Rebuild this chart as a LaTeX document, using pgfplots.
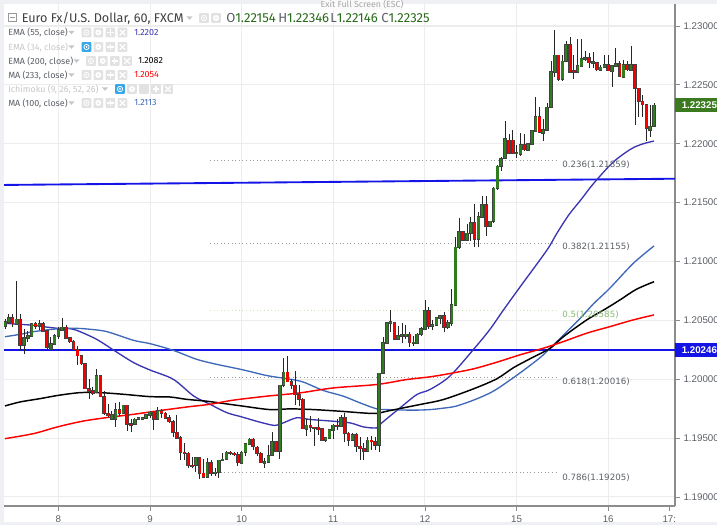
\documentclass[border=0pt]{standalone}
\usepackage{pgfplots}
\usepackage{pgfplotstable}
\usepackage{fontspec}
\pgfplotsset{compat=1.18}
\setmainfont{Liberation Sans}
\newfontfamily\tv{Fira Sans}
\newfontfamily\fib{DejaVu Sans}

\definecolor{gridc}{HTML}{ECECEC}
\definecolor{axisc}{HTML}{8C8C8C}
\definecolor{txtc}{HTML}{5A5F66}
\definecolor{stripc}{HTML}{EFF0F3}
\definecolor{upc}{HTML}{2F7D1E}
\definecolor{downc}{HTML}{F50000}
\definecolor{wick}{HTML}{262626}
\definecolor{ema}{HTML}{3A35B0}
\definecolor{maline}{HTML}{3E68B8}
\definecolor{hline}{HTML}{1414E6}
\definecolor{tagup}{HTML}{3B7A1E}
\definecolor{fibg}{HTML}{9A9A9A}
\definecolor{fibgreen}{HTML}{CBE3BD}
\definecolor{fibtxt}{HTML}{85BB70}
\definecolor{icong}{HTML}{E2E2E2}
\definecolor{iconb}{HTML}{3AA8E8}

% hours from the 8th 00:00, open high low close
\pgfplotstableread{
h o hi lo c
-14 1.2045 1.2051 1.2043 1.2049
-13 1.2049 1.2055 1.2047 1.2052
-12 1.2052 1.2055 1.2044 1.2047
-11 1.2047 1.2083 1.2047 1.2051
-10 1.2051 1.2055 1.2025 1.2029
-9 1.2029 1.2043 1.2021 1.2035
-8 1.2035 1.2041 1.2032 1.2037
-7 1.2037 1.2048 1.2037 1.2047
-6 1.2047 1.2049 1.2043 1.2045
-5 1.2045 1.2050 1.2042 1.2047
-4 1.2047 1.2049 1.2040 1.2041
-3 1.2041 1.2041 1.2026 1.2027
-2 1.2026 1.2036 1.2026 1.2030
-1 1.2030 1.2038 1.2030 1.2037
0 1.2037 1.2044 1.2034 1.2042
1 1.2042 1.2052 1.2042 1.2044
2 1.2044 1.2046 1.2035 1.2035
3 1.2035 1.2036 1.2031 1.2032
4 1.2032 1.2033 1.2024 1.2025
5 1.2025 1.2028 1.2012 1.2020
6 1.2020 1.2020 1.2012 1.2013
7 1.2013 1.2013 1.1992 1.1992
8 1.1992 1.2000 1.1983 1.1990
9 1.1990 1.1993 1.1987 1.1988
10 1.1989 1.2009 1.1988 1.2003
11 1.2003 1.2003 1.1985 1.1985
12 1.1985 1.1990 1.1970 1.1971
13 1.1971 1.1979 1.1968 1.1969
14 1.1966 1.1973 1.1966 1.1970
15 1.1966 1.1980 1.1959 1.1974
16 1.1974 1.1981 1.1969 1.1971
17 1.1971 1.1978 1.1971 1.1978
18 1.1978 1.1978 1.1956 1.1962
19 1.1962 1.1966 1.1955 1.1961
20 1.1962 1.1967 1.1961 1.1966
21 1.1966 1.1968 1.1965 1.1967
22 1.1966 1.1968 1.1965 1.1967
23 1.1967 1.1970 1.1967 1.1970
24 1.1970 1.1973 1.1967 1.1972
25 1.1972 1.1973 1.1957 1.1966
26 1.1966 1.1976 1.1965 1.1973
27 1.1973 1.1975 1.1967 1.1971
28 1.1971 1.1972 1.1966 1.1967
29 1.1967 1.1970 1.1963 1.1964
30 1.1964 1.1965 1.1951 1.1955
31 1.1955 1.1970 1.1950 1.1950
32 1.1950 1.1952 1.1931 1.1938
33 1.1938 1.1946 1.1931 1.1937
34 1.1937 1.1938 1.1925 1.1927
35 1.1927 1.1934 1.1925 1.1926
36 1.1927 1.1934 1.1921 1.1933
37 1.1933 1.1933 1.1915 1.1920
38 1.1920 1.1932 1.1917 1.1917
39 1.1917 1.1933 1.1917 1.1929
40 1.1929 1.1931 1.1918 1.1920
41 1.1920 1.1925 1.1918 1.1921
42 1.1921 1.1931 1.1916 1.1931
43 1.1931 1.1937 1.1931 1.1932
44 1.1932 1.1939 1.1931 1.1938
45 1.1938 1.1939 1.1936 1.1937
46 1.1937 1.1938 1.1935 1.1936
47 1.1936 1.1938 1.1926 1.1929
48 1.1929 1.1939 1.1929 1.1938
49 1.1938 1.1946 1.1935 1.1945
50 1.1945 1.1950 1.1944 1.1949
51 1.1949 1.1950 1.1940 1.1943
52 1.1942 1.1943 1.1935 1.1937
53 1.1937 1.1938 1.1929 1.1929
54 1.1929 1.1933 1.1925 1.1930
55 1.1930 1.1944 1.1929 1.1935
56 1.1936 1.1955 1.1935 1.1947
57 1.1947 1.1947 1.1939 1.1939
58 1.1939 1.1995 1.1932 1.1995
59 1.1995 1.2018 1.1993 1.2006
60 1.2006 1.2020 1.1998 1.1998
61 1.1998 1.2000 1.1992 1.1995
62 1.1995 1.2007 1.1978 1.1987
63 1.1987 1.1995 1.1977 1.1983
64 1.1983 1.1984 1.1958 1.1958
65 1.1958 1.1966 1.1952 1.1961
66 1.1961 1.1969 1.1955 1.1959
67 1.1959 1.1959 1.1943 1.19585
68 1.1959 1.1967 1.1953 1.1957
69 1.1958 1.1958 1.1948 1.1948
70 1.1948 1.1951 1.1947 1.1950
71 1.1950 1.1958 1.1949 1.1957
72 1.1957 1.1962 1.1949 1.1961
73 1.1961 1.1966 1.1957 1.1960
74 1.1960 1.1970 1.1959 1.1967
75 1.1967 1.1971 1.1947 1.1954
76 1.1954 1.1955 1.1943 1.1948
77 1.1948 1.1954 1.1948 1.1953
78 1.1953 1.1954 1.1938 1.1943
79 1.1943 1.1951 1.1931 1.1941
80 1.1941 1.1946 1.1931 1.1939
81 1.1939 1.1951 1.1939 1.1948
82 1.1948 1.1952 1.1940 1.1947
83 1.1947 1.1951 1.1940 1.1944
84 1.1944 1.2005 1.1938 1.2005
85 1.2005 1.2036 1.2004 1.2031
86 1.2031 1.2049 1.2031 1.2048
87 1.2048 1.2059 1.2040 1.2049
88 1.2048 1.2049 1.2033 1.2034
89 1.2034 1.2045 1.2033 1.2037
90 1.2037 1.2048 1.2031 1.20375
91 1.2037 1.2046 1.2034 1.2038
92 1.2038 1.2040 1.2027 1.2031
93 1.2031 1.2037 1.2028 1.20315
94 1.2031 1.2039 1.2031 1.2038
95 1.2038 1.2044 1.2037 1.2043
96 1.2043 1.2067 1.2042 1.2058
97 1.2058 1.2061 1.2043 1.2045
98 1.2045 1.2050 1.2042 1.2046
99 1.2046 1.2053 1.2045 1.2052
100 1.2052 1.2054 1.2047 1.2054
101 1.2054 1.2057 1.2040 1.2044
102 1.2044 1.2050 1.2043 1.2048
103 1.2048 1.2077 1.2045 1.2063
104 1.2063 1.2121 1.2063 1.2112
105 1.2112 1.2137 1.2111 1.2125
106 1.2125 1.2125 1.2117 1.2118
107 1.2118 1.2132 1.2118 1.2124
108 1.2124 1.2138 1.2117 1.2133
109 1.2133 1.2149 1.2112 1.2119
110 1.2119 1.2142 1.2112 1.2138
111 1.2138 1.2156 1.2137 1.2148
112 1.2148 1.2156 1.2122 1.2130
113 1.2130 1.2134 1.2129 1.2134
114 1.2134 1.2163 1.2133 1.2162
115 1.2162 1.2182 1.2161 1.2181
116 1.2181 1.2189 1.2177 1.2187
117 1.2188 1.2219 1.2188 1.2204
118 1.2203 1.2208 1.2191 1.2192
119 1.2203 1.2212 1.2191 1.2192
120 1.2192 1.2199 1.2188 1.21925
121 1.2191 1.2209 1.2190 1.2199
122 1.2199 1.2208 1.2194 1.2195
123 1.2195 1.2201 1.2194 1.2200
124 1.2200 1.2211 1.2200 1.2211
125 1.2211 1.2240 1.2210 1.2223
126 1.2223 1.2231 1.2209 1.2210
127 1.2209 1.2221 1.2202 1.2212
128 1.2212 1.2235 1.2211 1.2231
129 1.2231 1.2270 1.2230 1.2261
130 1.2261 1.2297 1.2257 1.2275
131 1.2275 1.2275 1.2253 1.2255
132 1.2255 1.2275 1.2253 1.2270
133 1.2270 1.2287 1.2270 1.2284
134 1.2284 1.2291 1.2260 1.2261
135 1.2262 1.2275 1.2255 1.2261
136 1.2261 1.2289 1.2261 1.2266
137 1.2266 1.2289 1.2265 1.2272
138 1.2272 1.2279 1.2270 1.2273
139 1.2273 1.2277 1.2264 1.2269
140 1.2269 1.2278 1.2264 1.22695
141 1.2269 1.2269 1.2262 1.2263
142 1.2263 1.2267 1.2262 1.2265
143 1.2265 1.2275 1.2264 1.2267
144 1.2267 1.2275 1.2262 1.2262
145 1.2262 1.2266 1.2248 1.2266
146 1.2266 1.2281 1.2265 1.2268
147 1.2268 1.2270 1.2257 1.2257
148 1.2257 1.2271 1.2257 1.2267
149 1.2267 1.2270 1.2262 1.2263
150 1.2263 1.2283 1.2262 1.2267
151 1.2267 1.2268 1.2216 1.2247
152 1.2247 1.2247 1.2223 1.2236
153 1.2236 1.2241 1.2223 1.2233
154 1.2233 1.2234 1.2202 1.2213
155 1.2212 1.2233 1.2206 1.2215
156 1.2215 1.2235 1.2215 1.22325
}\candles

\pgfplotstableread{
h p
-14 1.20475
-6.5 1.20458
-3.9 1.20446
0 1.20432
2.2 1.20432
4.8 1.20415
10 1.20339
14.8 1.2024
19.7 1.20141
24 1.20078
30.1 1.19999
35.4 1.19858
39.7 1.19787
44.1 1.19716
48 1.1968
52.8 1.19635
56.7 1.19607
58.9 1.19629
62.4 1.19672
65.9 1.19658
72 1.19643
76.4 1.19629
79.9 1.19595
83.4 1.19587
84.7 1.19629
89.5 1.19757
93.9 1.1987
97.3 1.19912
102.5 1.20025
108.7 1.20252
113 1.20422
116.5 1.20585
120.9 1.20783
127.9 1.21094
130.5 1.21236
133.6 1.21392
137 1.2153
140.1 1.2166
145.3 1.21844
150.1 1.21958
153.2 1.22
156 1.22023
}\emaA

\pgfplotstableread{
h p
-14 1.20361
-10 1.20381
-6.5 1.20404
0 1.20429
4.8 1.20432
8.3 1.20424
12.7 1.20404
19.7 1.2033
24 1.20302
30.1 1.20245
36.2 1.20169
41.5 1.20126
48 1.20082
54.6 1.20031
60.7 1.2
64.2 1.19975
69.4 1.19904
74.6 1.19856
79 1.19799
83.4 1.19748
86 1.19742
93 1.19737
97.4 1.19742
100 1.19751
104 1.1977
109.1 1.19827
113.9 1.19898
119.1 1.20011
123.5 1.20116
127 1.20207
132.3 1.20376
136.7 1.20518
140.1 1.20639
144.4 1.20772
150.6 1.20985
156 1.21132
}\maHundred

\pgfplotstableread{
h p
-14 1.19773
-10 1.19807
-4.8 1.19835
0 1.19863
5.7 1.19886
10.9 1.19886
17 1.19872
24 1.19852
29.2 1.19849
33.6 1.19829
38.9 1.19813
44.1 1.1979
48.4 1.19771
55.4 1.19742
60.7 1.19748
66.8 1.19742
73.8 1.19728
82.5 1.19709
86 1.19728
89.5 1.19751
94.7 1.19785
100.8 1.19827
108.7 1.19918
114.8 1.20003
119.1 1.20096
123.5 1.20173
128.8 1.20263
132.3 1.20362
138.4 1.20504
143.6 1.20603
147.1 1.20674
151.4 1.20764
156 1.20828
}\emaB

\pgfplotstableread{
h p
-14 1.19495
-6.5 1.19538
0 1.19597
6.6 1.19645
12.7 1.19674
19.7 1.19702
25.8 1.1973
33.6 1.19764
39.7 1.19787
45.8 1.19822
54.6 1.19856
63.3 1.19884
72 1.19926
83.4 1.19955
91.2 1.19997
97.3 1.2002
102.5 1.20048
108.7 1.20088
114.8 1.20144
120.9 1.20207
127 1.20263
132.3 1.2032
138.4 1.20391
144.5 1.20447
150.6 1.20504
156 1.20546
}\maTwo

\newcommand\icbox[3]{\fill[#3,rounded corners=0.5pt] ({#1-4.8},{#2-4.8}) rectangle ({#1+4.8},{#2+4.8});}
\newcommand\iceye[3]{\icbox{#1}{#2}{#3}\draw[white,line width=0.6pt] (#1,#2) circle[radius=2.6]; \fill[white] (#1,#2) circle[radius=1];}
\newcommand\icgear[2]{\icbox{#1}{#2}{icong}\fill[white] (#1,#2) circle[radius=3]; \fill[icong] (#1,#2) circle[radius=1];}
\newcommand\icplus[2]{\icbox{#1}{#2}{icong}\draw[white,line width=0.9pt] ({#1-3.2},#2) -- ({#1+3.2},#2) (#1,{#2-3.2}) -- (#1,{#2+3.2});}
\newcommand\ictimes[2]{\icbox{#1}{#2}{icong}\draw[white,line width=0.9pt] ({#1-2.8},{#2-2.8}) -- ({#1+2.8},{#2+2.8}) ({#1-2.8},{#2+2.8}) -- ({#1+2.8},{#2-2.8});}
% one legend row of four buttons
\newcommand\icrow[3]{\iceye{#1}{#2}{#3}\icgear{#1+11.8}{#2}\icplus{#1+23.8}{#2}\ictimes{#1+36}{#2}}
\newcommand\arrowdn[2]{\fill[gray!45] ({#1-3},{#2-1.5}) -- ({#1+3},{#2-1.5}) -- (#1,{#2+1.8}) -- cycle;}
\newcommand\legrow[3]{\node[anchor=west,inner sep=0pt,text=#3] at (8,#1) {\tv\fontsize{6.7}{8}\selectfont #2};}
\newcommand\legval[4]{\node[anchor=west,inner sep=0pt,text=#3] at (#1,#2) {\tv\fontsize{6.7}{8}\selectfont #4};}

\begin{document}
\begin{tikzpicture}
\path[use as bounding box] (0,0) rectangle (537.75pt,393.75pt);
\begin{axis}[
  at={(3pt,14.25pt)}, anchor=south west,
  scale only axis,
  width=503.25pt, height=376.5pt,
  xmin=-14.25, xmax=161.5,
  ymin=1.18923, ymax=1.23187,
  axis x line=bottom, axis y line=right,
  axis line style={-,color=axisc,line width=0.8pt},
  tick align=outside,
  major tick length=3.5pt,
  tick style={color=axisc,line width=0.6pt},
  xtick={0,24,48,72,96,120,144},
  xticklabels={8,9,10,11,12,15,16},
  extra x ticks={160},
  extra x tick labels={17:},
  extra x tick style={grid=none},
  ytick={1.19,1.195,1.2,1.205,1.21,1.215,1.22,1.225,1.23},
  scaled y ticks=false,
  yticklabel style={xshift=-0.6pt,/pgf/number format/.cd,fixed,fixed zerofill,precision=5,assume math mode=true},
  tick label style={font=\fontsize{7.3}{9}\selectfont,text=txtc},
  xtick pos=bottom,
  ytick pos=right,
  xmajorgrids, ymajorgrids,
  grid style={color=gridc,line width=0.8pt},
  clip=true,
]
\addplot[color=fibg,dotted,line width=0.7pt] coordinates {(39.7,1.21859) (130.8,1.21859)};
\addplot[color=fibg,dotted,line width=0.7pt] coordinates {(39.7,1.21155) (130.8,1.21155)};
\addplot[color=fibgreen,dotted,line width=0.7pt] coordinates {(39.7,1.20585) (130.8,1.20585)};
\addplot[color=fibg,dotted,line width=0.7pt] coordinates {(39.7,1.20016) (130.8,1.20016)};
\addplot[color=fibg,dotted,line width=0.7pt] coordinates {(39.7,1.19205) (130.8,1.19205)};
\addplot[color=hline,line width=1.5pt] coordinates {(-14.25,1.20246) (161.5,1.20246)};
\addplot[color=hline,line width=1.4pt] coordinates {(-14.25,1.2165) (161.5,1.21703)};
\addplot[color=ema,line width=1pt,smooth] table[x=h,y=p] {\emaA};
\addplot[color=maline,line width=1pt,smooth] table[x=h,y=p] {\maHundred};
\addplot[color=black,line width=1.1pt,smooth] table[x=h,y=p] {\emaB};
\addplot[color=red,line width=1.1pt,smooth] table[x=h,y=p] {\maTwo};
% wicks
\addplot[only marks,mark size=0pt,mark options={draw=none,fill=none},error bars/.cd,y dir=both,y explicit,error mark=none,
  error bar style={color=wick,line width=0.6pt}]
  table[x=h,y=o,y error plus expr=\thisrow{hi}-\thisrow{o},y error minus expr=\thisrow{o}-\thisrow{lo}] {\candles};
% body outlines
\addplot[only marks,mark size=0pt,mark options={draw=none,fill=none},error bars/.cd,y dir=both,y explicit,error mark=none,
  error bar style={color=wick!70!gray,line width=2.7pt}]
  table[x=h,y=o,y error plus expr={max(\thisrow{c}-\thisrow{o},0)+0.00005},y error minus expr={max(\thisrow{o}-\thisrow{c},0)+0.00005}] {\candles};
% up bodies
\addplot[only marks,mark size=0pt,mark options={draw=none,fill=none},x filter/.expression={\thisrow{c}>=\thisrow{o} ? x : nan},
  error bars/.cd,y dir=plus,y explicit,error mark=none,
  error bar style={color=upc,line width=1.7pt}]
  table[x=h,y=o,y error plus expr=\thisrow{c}-\thisrow{o}] {\candles};
% down bodies
\addplot[only marks,mark size=0pt,mark options={draw=none,fill=none},x filter/.expression={\thisrow{c}<\thisrow{o} ? x : nan},
  error bars/.cd,y dir=minus,y explicit,error mark=none,
  error bar style={color=downc,line width=1.7pt}]
  table[x=h,y=o,y error minus expr=\thisrow{o}-\thisrow{c}] {\candles};
\end{axis}

\begin{scope}[x=0.75pt,y=-0.75pt,yshift=393.75pt]
% chrome
\fill[stripc] (0,0) rectangle (717,4);
\fill[stripc] (0,0) rectangle (4,525);
\fill[stripc] (0,521.5) rectangle (717,525);
\fill[white!96!gray] (322,0) rectangle (402,10.5);
\node[inner sep=0pt,text=gray!70] at (362,4.6) {\tv\fontsize{6.6}{8}\selectfont Exit Full Screen (ESC)};

% price tags
\fill[tagup] (675,98) rectangle (717,112);
\node[anchor=west,inner sep=0pt,text=white] at (681.5,105) {\fontsize{7.3}{9}\selectfont\bfseries 1.22325};
\fill[hline] (675,343.5) rectangle (717,357.5);
\node[anchor=west,inner sep=0pt,text=white] at (681.5,350.5) {\fontsize{7.3}{9}\selectfont\bfseries 1.20246};

% fib labels
\node[anchor=west,inner sep=0pt,text=txtc] at (562,165) {\fib\fontsize{6.5}{8}\selectfont 0.236(1.21859)};
\node[anchor=west,inner sep=0pt,text=txtc] at (562,247) {\fib\fontsize{6.5}{8}\selectfont 0.382(1.21155)};
\node[anchor=west,inner sep=0pt,text=fibtxt] at (562,315) {\fib\fontsize{6.5}{8}\selectfont 0.5(1.20585)};
\node[anchor=west,inner sep=0pt,text=txtc] at (562,382) {\fib\fontsize{6.5}{8}\selectfont 0.618(1.20016)};
\node[anchor=west,inner sep=0pt,text=txtc] at (562,477.5) {\fib\fontsize{6.5}{8}\selectfont 0.786(1.19205)};

% title row
\draw[gray!80,line width=0.6pt] (8.5,13.5) rectangle (16.5,21.5);
\draw[gray!80,line width=0.6pt] (10.3,17.5) -- (14.7,17.5);
\node[anchor=west,inner sep=0pt,text=black!75] at (21.5,18) {\tv\fontsize{9.5}{12}\selectfont Euro Fx/U.S. Dollar, 60, FXCM};
\arrowdn{189.5}{18}
\iceye{204}{18}{icong}
\icgear{216}{18}
\node[anchor=west,inner sep=0pt] at (226,18) {\tv\fontsize{9.8}{12}\selectfont\textcolor{txtc}{O}\textcolor{upc!85!black}{1.22154}};
\node[anchor=west,inner sep=0pt] at (278,18) {\tv\fontsize{9.8}{12}\selectfont\textcolor{txtc}{H}\textcolor{upc!85!black}{1.22346}};
\node[anchor=west,inner sep=0pt] at (330,18) {\tv\fontsize{9.8}{12}\selectfont\textcolor{txtc}{L}\textcolor{upc!85!black}{1.22146}};
\node[anchor=west,inner sep=0pt] at (381,18) {\tv\fontsize{9.8}{12}\selectfont\textcolor{txtc}{C}\textcolor{upc!85!black}{1.22325}};

% indicator rows
\legrow{32.5}{EMA (55, close)}{txtc}
\arrowdn{71.5}{32.5}
\icrow{86.5}{32.5}{icong}
\legval{134}{32.5}{ema}{1.2202}

\legrow{47}{EMA (34, close)}{gray!45}
\arrowdn{71.5}{47}
\icrow{86.5}{47}{iconb}

\legrow{61}{EMA (200, close)}{txtc}
\arrowdn{76.5}{61}
\icrow{91}{61}{icong}
\legval{138}{61}{black}{1.2082}

\legrow{75}{MA (233, close)}{txtc}
\arrowdn{71.5}{75}
\icrow{86.5}{75}{icong}
\legval{134}{75}{red}{1.2054}

\legrow{89}{Ichimoku (9, 26, 52, 26)}{gray!45}
\arrowdn{105}{89}
\iceye{120}{89}{iconb}
\icgear{132}{89}
\icbox{144}{89}{icong}
\icplus{156}{89}
\ictimes{168}{89}

\legrow{103}{MA (100, close)}{txtc}
\arrowdn{71.5}{103}
\icrow{86.5}{103}{icong}
\legval{134}{103}{maline}{1.2113}
\end{scope}
\end{tikzpicture}
\end{document}
